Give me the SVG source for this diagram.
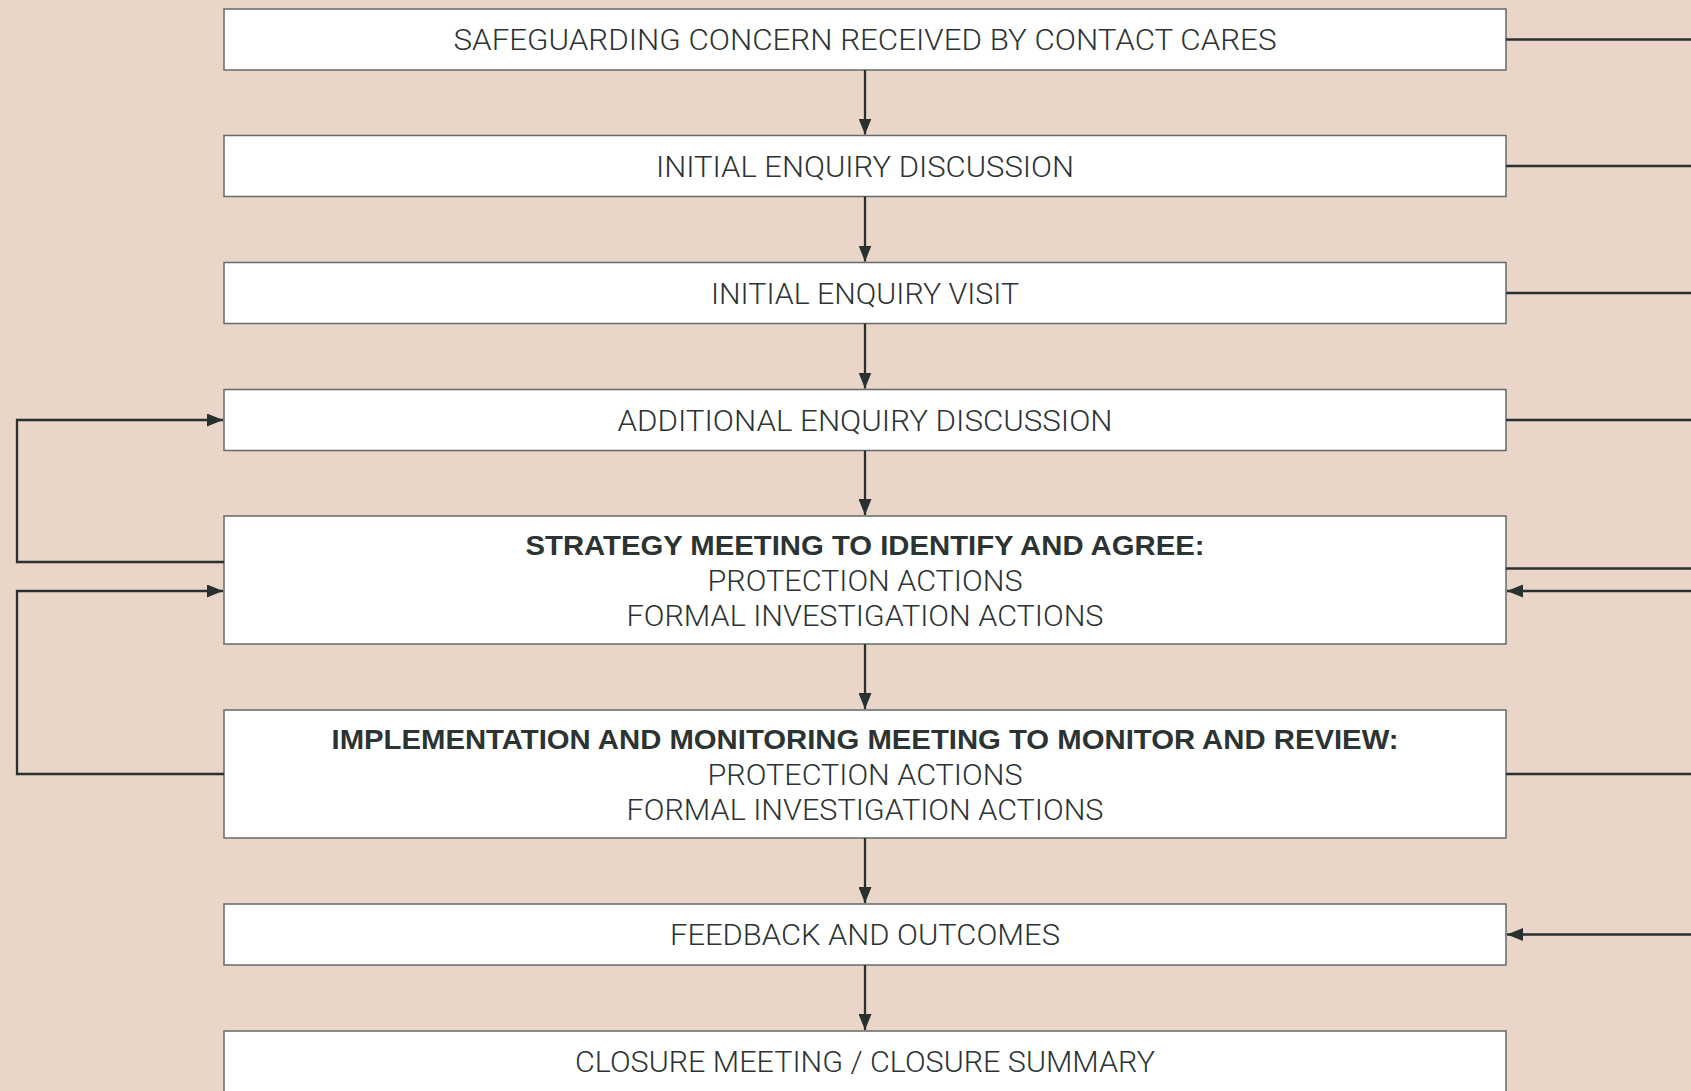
<svg xmlns="http://www.w3.org/2000/svg" width="1691" height="1091" viewBox="0 0 1691 1091">
<defs>
<style>
.box{fill:#ffffff;stroke:#666a6a;stroke-width:1.5}
.t{font-family:Roboto,"Liberation Sans",sans-serif;font-weight:300;font-size:29.5px;fill:#2c3333;text-anchor:middle}
.b{font-family:"Liberation Sans",Roboto,sans-serif;font-weight:700;font-size:28px;fill:#2c3333;text-anchor:middle}
.c{fill:none;stroke:#283030;stroke-width:2.3}
</style>
<marker id="ah" viewBox="0 0 16 13" refX="16" refY="6.5" markerWidth="16" markerHeight="13" markerUnits="userSpaceOnUse" orient="auto">
<path d="M0,0 L16,6.5 L0,13 Z" fill="#283030"/>
</marker>
</defs>
<rect width="1691" height="1091" fill="#e9d6c9"/>
<g id="n1"><rect class="box" x="224" y="9" width="1282" height="61"/><text class="t" x="865" y="50" textLength="823" lengthAdjust="spacingAndGlyphs">SAFEGUARDING CONCERN RECEIVED BY CONTACT CARES</text></g>
<g id="n2"><rect class="box" x="224" y="135.5" width="1282" height="61"/><text class="t" x="865" y="177" textLength="418" lengthAdjust="spacingAndGlyphs">INITIAL ENQUIRY DISCUSSION</text></g>
<g id="n3"><rect class="box" x="224" y="262.5" width="1282" height="61"/><text class="t" x="865" y="304" textLength="308" lengthAdjust="spacingAndGlyphs">INITIAL ENQUIRY VISIT</text></g>
<g id="n4"><rect class="box" x="224" y="389.5" width="1282" height="61"/><text class="t" x="865" y="431" textLength="495" lengthAdjust="spacingAndGlyphs">ADDITIONAL ENQUIRY DISCUSSION</text></g>
<g id="n5"><rect class="box" x="224" y="516" width="1282" height="128"/><text class="b" x="865" y="555" textLength="679" lengthAdjust="spacingAndGlyphs">STRATEGY MEETING TO IDENTIFY AND AGREE:</text><text class="t" x="865" y="590.5" textLength="315" lengthAdjust="spacingAndGlyphs">PROTECTION ACTIONS</text><text class="t" x="865" y="626" textLength="477" lengthAdjust="spacingAndGlyphs">FORMAL INVESTIGATION ACTIONS</text></g>
<g id="n6"><rect class="box" x="224" y="710" width="1282" height="128"/><text class="b" x="865" y="749" textLength="1067" lengthAdjust="spacingAndGlyphs">IMPLEMENTATION AND MONITORING MEETING TO MONITOR AND REVIEW:</text><text class="t" x="865" y="784.5" textLength="315" lengthAdjust="spacingAndGlyphs">PROTECTION ACTIONS</text><text class="t" x="865" y="820" textLength="477" lengthAdjust="spacingAndGlyphs">FORMAL INVESTIGATION ACTIONS</text></g>
<g id="n7"><rect class="box" x="224" y="904" width="1282" height="61"/><text class="t" x="865" y="945" textLength="390" lengthAdjust="spacingAndGlyphs">FEEDBACK AND OUTCOMES</text></g>
<g id="n8"><rect class="box" x="224" y="1031" width="1282" height="80"/><text class="t" x="865" y="1072" textLength="580" lengthAdjust="spacingAndGlyphs">CLOSURE MEETING / CLOSURE SUMMARY</text></g>
<g id="connectors">
<path class="c" d="M865,70 V134.5" marker-end="url(#ah)"/>
<path class="c" d="M865,196.5 V261.5" marker-end="url(#ah)"/>
<path class="c" d="M865,323.5 V388.5" marker-end="url(#ah)"/>
<path class="c" d="M865,450.5 V515" marker-end="url(#ah)"/>
<path class="c" d="M865,644 V709" marker-end="url(#ah)"/>
<path class="c" d="M865,838 V903" marker-end="url(#ah)"/>
<path class="c" d="M865,965 V1030" marker-end="url(#ah)"/>
<path class="c" d="M224,562 H17 V420 H223" marker-end="url(#ah)"/>
<path class="c" d="M224,774 H17 V591 H223" marker-end="url(#ah)"/>
<path class="c" d="M1506,39.5 H1691"/>
<path class="c" d="M1506,166 H1691"/>
<path class="c" d="M1506,293 H1691"/>
<path class="c" d="M1506,420 H1691"/>
<path class="c" d="M1506,568.5 H1691"/>
<path class="c" d="M1691,591 H1507" marker-end="url(#ah)"/>
<path class="c" d="M1506,774 H1691"/>
<path class="c" d="M1691,934.5 H1507" marker-end="url(#ah)"/>
</g>
</svg>
